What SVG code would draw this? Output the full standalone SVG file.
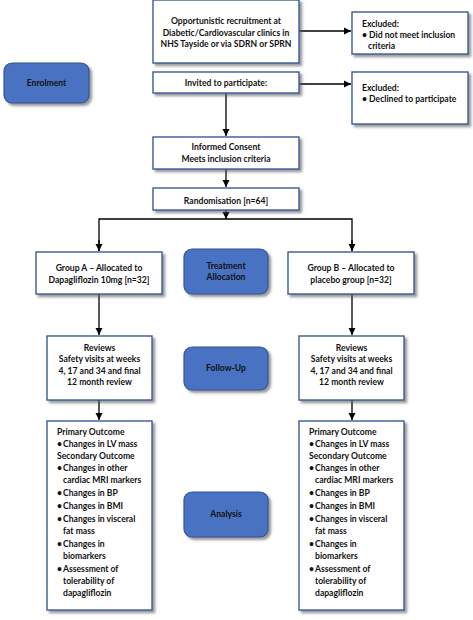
<svg xmlns="http://www.w3.org/2000/svg" width="473" height="620" viewBox="0 0 473 620">
<style>
.box{fill:#fff;stroke:#3b5a9a;stroke-width:1.4;filter:url(#sh)}
.phase{fill:#4a72c2;stroke:#33559a;stroke-width:1.2;filter:url(#sh)}
text{font-family:Lato,"Liberation Sans",sans-serif;font-size:8.6px;font-weight:bold;fill:#111}
.c{text-anchor:middle}
.con{stroke:#000;stroke-width:1.3;fill:none}
</style>
<defs>
<filter id="sh" x="-20%" y="-20%" width="140%" height="140%"><feDropShadow dx="2.5" dy="2.5" stdDeviation="1.2" flood-color="#555" flood-opacity="0.6"/></filter>
<marker id="ah" markerWidth="8" markerHeight="8" refX="7" refY="4" orient="auto" markerUnits="userSpaceOnUse"><path d="M0,0.5 L7,4 L0,7.5 Z" fill="#000"/></marker>
</defs>
<g id="connectors">
<line class="con" x1="299" y1="31" x2="351" y2="31" marker-end="url(#ah)"/>
<line class="con" x1="299" y1="84" x2="351" y2="84" marker-end="url(#ah)"/>
<line class="con" x1="226" y1="93" x2="226" y2="136" marker-end="url(#ah)"/>
<line class="con" x1="226" y1="169" x2="226" y2="187" marker-end="url(#ah)"/>
<line class="con" x1="226" y1="210" x2="226" y2="219" marker-end="url(#ah)"/>
<path class="con" d="M99,251 V219 H352 V251"/>
<line class="con" x1="99" y1="240" x2="99" y2="251" marker-end="url(#ah)"/>
<line class="con" x1="352" y1="240" x2="352" y2="251" marker-end="url(#ah)"/>
<line class="con" x1="99" y1="294" x2="99" y2="335" marker-end="url(#ah)"/>
<line class="con" x1="352" y1="294" x2="352" y2="335" marker-end="url(#ah)"/>
<line class="con" x1="99" y1="400" x2="99" y2="420" marker-end="url(#ah)"/>
<line class="con" x1="352" y1="400" x2="352" y2="420" marker-end="url(#ah)"/>
</g>
<g id="recruit"><rect class="box" x="153" y="0" width="146" height="63"/>
<text class="c" x="226" y="24">Opportunistic recruitment at</text>
<text class="c" x="226" y="36">Diabetic/Cardiovascular clinics in</text>
<text class="c" x="226" y="47">NHS Tayside or via SDRN or SPRN</text></g>
<g id="excluded1"><rect class="box" x="352" y="12" width="116" height="42"/>
<text x="362" y="27">Excluded:</text>
<text x="362" y="38">• Did not meet inclusion</text>
<text x="368" y="49">criteria</text></g>
<g id="enrolment"><rect class="phase" x="4" y="63" width="85" height="40" rx="8"/>
<text class="c" x="46.5" y="86">Enrolment</text></g>
<g id="invited"><rect class="box" x="153" y="72" width="146" height="21"/>
<text class="c" x="226" y="86">Invited to participate:</text></g>
<g id="excluded2"><rect class="box" x="352" y="72" width="116" height="52"/>
<text x="362" y="91">Excluded:</text>
<text x="362" y="102">• Declined to participate</text></g>
<g id="consent"><rect class="box" x="153" y="137" width="146" height="32"/>
<text class="c" x="226" y="150">Informed Consent</text>
<text class="c" x="226" y="162">Meets inclusion criteria</text></g>
<g id="randomisation"><rect class="box" x="153" y="188" width="146" height="22"/>
<text class="c" x="226" y="204">Randomisation [n=64]</text></g>
<g id="groupA"><rect class="box" x="36" y="252" width="126" height="42"/>
<text class="c" x="99" y="271">Group A – Allocated to</text>
<text class="c" x="99" y="283">Dapagliflozin 10mg [n=32]</text></g>
<g id="treatment"><rect class="phase" x="184" y="249" width="84" height="45" rx="8"/>
<text class="c" x="226" y="269">Treatment</text>
<text class="c" x="226" y="280">Allocation</text></g>
<g id="groupB"><rect class="box" x="288" y="252" width="126" height="42"/>
<text class="c" x="351" y="271">Group B – Allocated to</text>
<text class="c" x="351" y="283">placebo group [n=32]</text></g>
<g id="reviewsA"><rect class="box" x="47" y="336" width="105" height="64"/>
<text class="c" x="99.5" y="350.5">Reviews</text>
<text class="c" x="99.5" y="362">Safety visits at weeks</text>
<text class="c" x="99.5" y="373.5">4, 17 and 34 and final</text>
<text class="c" x="99.5" y="384.5">12 month review</text></g>
<g id="followup"><rect class="phase" x="184" y="347" width="84" height="43" rx="8"/>
<text class="c" x="226" y="371">Follow-Up</text></g>
<g id="reviewsB"><rect class="box" x="299" y="336" width="105" height="64"/>
<text class="c" x="351.5" y="350.5">Reviews</text>
<text class="c" x="351.5" y="362">Safety visits at weeks</text>
<text class="c" x="351.5" y="373.5">4, 17 and 34 and final</text>
<text class="c" x="351.5" y="384.5">12 month review</text></g>
<g id="outcomesA"><rect class="box" x="47" y="421" width="105" height="189"/>
<text x="57" y="435">Primary Outcome</text>
<text x="57" y="447">•</text><text x="63" y="447">Changes in LV mass</text>
<text x="57" y="459">Secondary Outcome</text>
<text x="57" y="471">•</text><text x="63" y="471">Changes in other</text>
<text x="63" y="483">cardiac MRI markers</text>
<text x="57" y="496">•</text><text x="63" y="496">Changes in BP</text>
<text x="57" y="509">•</text><text x="63" y="509">Changes in BMI</text>
<text x="57" y="522">•</text><text x="63" y="522">Changes in visceral</text>
<text x="63" y="534">fat mass</text>
<text x="57" y="547">•</text><text x="63" y="547">Changes in</text>
<text x="63" y="559">biomarkers</text>
<text x="57" y="572">•</text><text x="63" y="572">Assessment of</text>
<text x="63" y="584">tolerability of</text>
<text x="63" y="596">dapagliflozin</text></g>
<g id="analysis"><rect class="phase" x="184" y="492" width="84" height="45" rx="8"/>
<text class="c" x="226" y="517">Analysis</text></g>
<g id="outcomesB"><rect class="box" x="299" y="421" width="105" height="189"/>
<text x="309" y="435">Primary Outcome</text>
<text x="309" y="447">•</text><text x="315" y="447">Changes in LV mass</text>
<text x="309" y="459">Secondary Outcome</text>
<text x="309" y="471">•</text><text x="315" y="471">Changes in other</text>
<text x="315" y="483">cardiac MRI markers</text>
<text x="309" y="496">•</text><text x="315" y="496">Changes in BP</text>
<text x="309" y="509">•</text><text x="315" y="509">Changes in BMI</text>
<text x="309" y="522">•</text><text x="315" y="522">Changes in visceral</text>
<text x="315" y="534">fat mass</text>
<text x="309" y="547">•</text><text x="315" y="547">Changes in</text>
<text x="315" y="559">biomarkers</text>
<text x="309" y="572">•</text><text x="315" y="572">Assessment of</text>
<text x="315" y="584">tolerability of</text>
<text x="315" y="596">dapagliflozin</text></g>
</svg>
